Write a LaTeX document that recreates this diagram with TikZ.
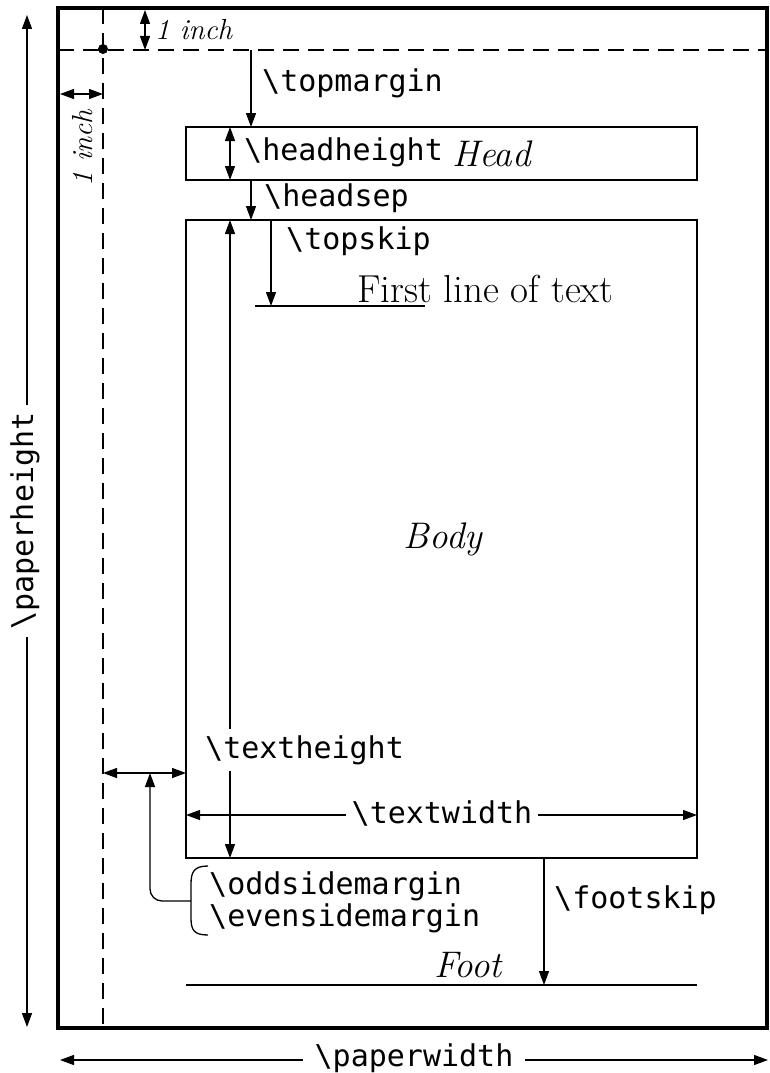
\documentclass[tikz,border=0pt]{standalone}
\usepackage{fontspec}
\newfontfamily\mono{DejaVu Sans Mono}
\usetikzlibrary{arrows.meta}
\begin{document}
\begin{tikzpicture}[x=1pt,y=-1pt,
  tip/.tip={Triangle[length=14pt,width=10pt]},
  rule/.style={line width=1.3pt},
  dim/.style={line width=1.3pt,-tip},
  dimboth/.style={line width=1.3pt,tip-tip},
  guide/.style={line width=1.3pt,dash pattern=on 16pt off 9pt},
  cmd/.style={font=\mono\fontsize{30}{30}\selectfont,inner sep=0pt,anchor=west},
  ital/.style={font=\fontsize{37}{37}\selectfont\itshape,inner sep=0pt},
  gap/.style={fill=white}]
\useasboundingbox (0,0) rectangle (770,1073);

% paper outline and the one-inch guides
\draw[line width=4.5pt] (58,8) rectangle (767,1028);
\coordinate (hgL) at (58,50);  \coordinate (hgR) at (767,50);
\coordinate (vgT) at (103,8);  \coordinate (vgB) at (103,1028);
\draw[guide] (hgL) -- (hgR);
\draw[guide] (vgT) -- (vgB);
\fill (103,49) circle (5pt) coordinate (origin);

% one inch offsets
\coordinate (inT1) at (145,10); \coordinate (inT2) at (145,50);
\draw[dimboth] (inT1) -- (inT2);
\node[font=\fontsize{29}{29}\selectfont\itshape,inner sep=0pt,anchor=west] (inchtop) at (155,30) {1 inch};
\coordinate (inL1) at (60,94); \coordinate (inL2) at (103,94);
\draw[dimboth] (inL1) -- (inL2);
\node[font=\fontsize{29}{29}\selectfont\itshape,inner sep=0pt,rotate=90] (inchleft) at (83,148) {1 inch};

% head box
\coordinate (headTL) at (186,127); \coordinate (headBR) at (697,180);
\draw[rule] (headTL) rectangle (headBR);
\coordinate (tmA) at (251,50); \coordinate (tmB) at (251,127);
\draw[dim] (tmA) -- (tmB);
\node[cmd] (topmargin) at (262,83) {\textbackslash topmargin};
\coordinate (hhA) at (230,127); \coordinate (hhB) at (230,180);
\draw[dimboth] (hhA) -- (hhB);
\node[cmd] (headheight) at (244,152) {\textbackslash headheight};
\node[ital,anchor=west] (head) at (452,154) {Head};

% head separation
\coordinate (hsA) at (251,180); \coordinate (hsB) at (251,220);
\draw[dim] (hsA) -- (hsB);
\node[cmd] (headsep) at (264,198) {\textbackslash headsep};

% body
\coordinate (bodyTL) at (186,220); \coordinate (bodyBR) at (697,858);
\draw[rule] (bodyTL) rectangle (bodyBR);
\node[ital] (body) at (443,539) {Body};

% top skip and first line
\coordinate (tsA) at (271,220); \coordinate (tsB) at (271,306);
\draw[dim] (tsA) -- (tsB);
\node[cmd] (topskip) at (286,241) {\textbackslash topskip};
\coordinate (flA) at (255,306); \coordinate (flB) at (425,306);
\draw[rule] (flA) -- (flB);
\node[font=\fontsize{39}{39}\selectfont,inner sep=0pt,anchor=base west] (firstline) at (357,302) {First line of text};

% text height and width
\coordinate (thA) at (230,220); \coordinate (thB) at (230,858);
\draw[dimboth] (thA) -- (thB);
\node[cmd,gap,inner xsep=1pt,inner ysep=6pt] (textheight) at (204,750) {\textbackslash textheight};
\coordinate (twA) at (186,815); \coordinate (twB) at (697,815);
\draw[dimboth] (twA) -- (twB);
\node[cmd,gap,anchor=center,inner xsep=6pt,inner ysep=3pt] (textwidth) at (442,813) {\textbackslash textwidth};

% side margins
\coordinate (smA) at (103,773); \coordinate (smB) at (186,773);
\draw[dimboth] (smA) -- (smB);
\coordinate (brace) at (191,901);
\draw[rule] (208,866) .. controls (194,866) and (191,872) .. (191,884)
  -- (191,918) .. controls (191,930) and (194,935) .. (208,935);
\draw[dim,rounded corners=12pt] (brace) -| (150,773);
\node[cmd] (oddside) at (209,886) {\textbackslash oddsidemargin};
\node[cmd] (evenside) at (209,918) {\textbackslash evensidemargin};

% foot
\coordinate (fsA) at (544,858); \coordinate (fsB) at (544,985);
\draw[dim] (fsA) -- (fsB);
\node[cmd] (footskip) at (554,900) {\textbackslash footskip};
\coordinate (ftA) at (186,985); \coordinate (ftB) at (697,985);
\draw[rule] (ftA) -- (ftB);
\node[ital] (foot) at (468,965) {Foot};

% paper dimensions
\coordinate (phA) at (27,15); \coordinate (phB) at (27,1027);
\draw[dimboth] (phA) -- (phB);
\node[cmd,gap,anchor=center,rotate=90,inner xsep=8pt,inner ysep=2pt] (paperheight) at (25,521) {\textbackslash paperheight};
\coordinate (pwA) at (60,1060); \coordinate (pwB) at (768,1060);
\draw[dimboth] (pwA) -- (pwB);
\node[cmd,gap,anchor=center,inner xsep=12pt,inner ysep=2pt] (paperwidth) at (414,1058) {\textbackslash paperwidth};
\end{tikzpicture}
\end{document}
